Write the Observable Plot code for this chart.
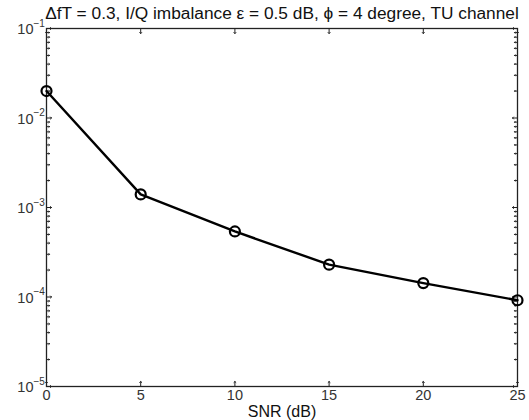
<!DOCTYPE html>
<html>
<head>
<meta charset="utf-8">
<script src="https://cdn.jsdelivr.net/npm/d3@7"></script>
<script src="https://cdn.jsdelivr.net/npm/@observablehq/plot@0.6"></script>
<style>
  html, body { margin: 0; padding: 0; background: #fff; }
  svg { display: block; }
</style>
</head>
<body>
<div id="chart"></div>
<script>
const titleText = "\u0394fT = 0.3, I/Q imbalance \u03b5 = 0.5 dB, \u03d5 = 4 degree, TU channel";
const xLabel = "SNR (dB)";
const snr = [0, 5, 10, 15, 20, 25];
const ber = [0.02, 1.4e-3, 5.4e-4, 2.3e-4, 1.43e-4, 9.2e-5];
const xTicks = [0, 5, 10, 15, 20, 25];
const yTicks = [1e-5, 1e-4, 1e-3, 1e-2, 1e-1];
const yExps = ["\u22125", "\u22124", "\u22123", "\u22122", "\u22121"];
const minorMult = [2, 3, 4, 5, 6, 7, 8, 9];

const yMinor = yTicks.slice(0, -1).flatMap(d => minorMult.map(m => d * m));
const data = snr.map((s, i) => ({snr: s, ber: ber[i]}));

const font = "'Liberation Sans', Arial, Helvetica, sans-serif";

const chart = Plot.plot({
  width: 529,
  height: 420,
  marginLeft: 46,
  marginRight: 12,
  marginTop: 28,
  marginBottom: 34,
  style: {fontFamily: font, background: "#fff"},
  x: {domain: [0, 25], axis: null},
  y: {type: "log", domain: [1e-5, 1e-1], axis: null},
  marks: [
    Plot.vector(yTicks, {y: d => d, frameAnchor: "left", rotate: 90, length: 5, anchor: "start", stroke: "#222", strokeWidth: 1}),
    Plot.vector(yTicks, {y: d => d, frameAnchor: "right", rotate: -90, length: 5, anchor: "start", stroke: "#222", strokeWidth: 1}),
    Plot.vector(yMinor, {y: d => d, frameAnchor: "left", rotate: 90, length: 3, anchor: "start", stroke: "#222", strokeWidth: 1}),
    Plot.vector(yMinor, {y: d => d, frameAnchor: "right", rotate: -90, length: 3, anchor: "start", stroke: "#222", strokeWidth: 1}),
    Plot.vector(xTicks, {x: d => d, frameAnchor: "bottom", rotate: 0, length: 5, anchor: "start", stroke: "#222", strokeWidth: 1}),
    Plot.vector(xTicks, {x: d => d, frameAnchor: "top", rotate: 180, length: 5, anchor: "start", stroke: "#222", strokeWidth: 1}),
    Plot.frame({stroke: "#222", strokeWidth: 1.3}),
    Plot.line(data, {x: "snr", y: "ber", stroke: "#000", strokeWidth: 2.4}),
    Plot.dot(data, {x: "snr", y: "ber", r: 5, stroke: "#000", strokeWidth: 2.2, fill: "none"}),
    Plot.text(xTicks, {x: d => d, frameAnchor: "bottom", dy: 3, lineAnchor: "top", text: d => String(d), fontSize: 14.5, fill: "#333"}),
    Plot.text(yTicks, {y: d => d, frameAnchor: "left", dx: -13, dy: 1, textAnchor: "end", text: d => "10", fontSize: 14.5, fill: "#333"}),
    Plot.text(yTicks, {y: d => d, frameAnchor: "left", dx: -13, dy: -5, textAnchor: "start", text: (d, i) => yExps[i], fontSize: 10, fill: "#333"}),
    Plot.text([titleText], {frameAnchor: "top", dy: -15, lineAnchor: "middle", text: d => d, fontSize: 17.3, fill: "#111"}),
    Plot.text([xLabel], {frameAnchor: "bottom", dy: 25, lineAnchor: "middle", text: d => d, fontSize: 16, fill: "#111"})
  ]
});
document.getElementById("chart").appendChild(chart);
</script>
</body>
</html>
